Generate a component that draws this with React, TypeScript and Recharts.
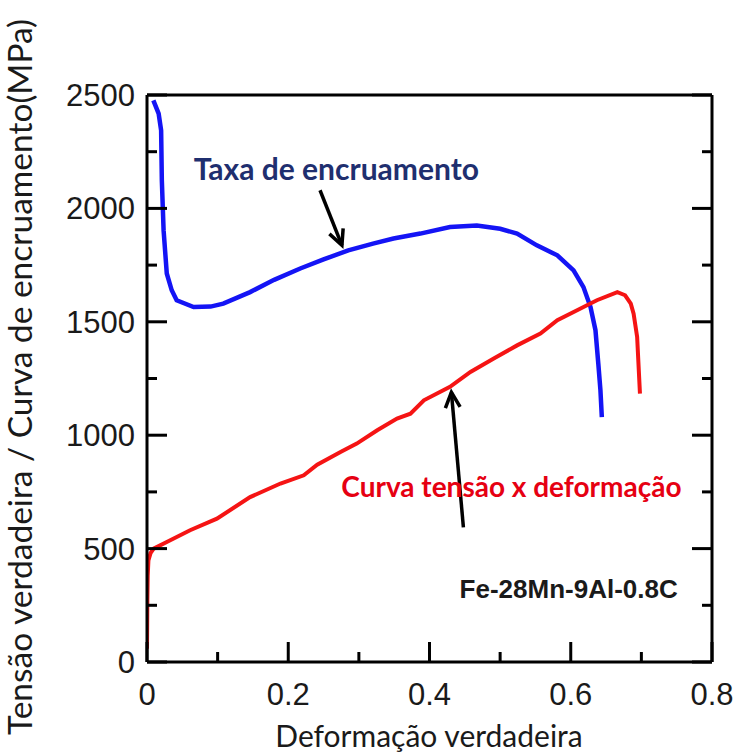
import React from 'react';
import { LineChart, Line, XAxis, YAxis, ReferenceLine, ReferenceDot, Label } from 'recharts';

// taxa de encruamento (work hardening rate)
const hardeningStrain = [0.009, 0.0165, 0.02, 0.021, 0.0235, 0.028, 0.035, 0.042, 0.066, 0.09, 0.108, 0.146, 0.18, 0.217, 0.25, 0.285, 0.32, 0.349, 0.387, 0.429, 0.467, 0.5, 0.524, 0.552, 0.581, 0.604, 0.618, 0.628, 0.635, 0.639, 0.642, 0.644];
const hardeningRate = [2476, 2418, 2344, 2124, 1903, 1713, 1639, 1595, 1565, 1567, 1580, 1631, 1685, 1735, 1775, 1815, 1845, 1867, 1889, 1918, 1925, 1910, 1889, 1837, 1793, 1727, 1653, 1565, 1463, 1316, 1200, 1080];

// curva tensão x deformação (true stress)
const stressStrain = [0, 0.0005, 0.001, 0.002, 0.005, 0.0094, 0.028, 0.061, 0.099, 0.146, 0.189, 0.222, 0.241, 0.274, 0.297, 0.326, 0.354, 0.373, 0.392, 0.429, 0.458, 0.491, 0.524, 0.557, 0.581, 0.609, 0.637, 0.666, 0.677, 0.685, 0.689, 0.694, 0.698];
const trueStress = [59, 272, 380, 448, 480, 500, 529, 581, 632, 727, 787, 823, 870, 926, 963, 1022, 1073, 1095, 1154, 1213, 1279, 1338, 1396, 1448, 1507, 1551, 1595, 1631, 1617, 1580, 1536, 1433, 1183];

const xTicks = [0, 0.1, 0.2, 0.3, 0.4, 0.5, 0.6, 0.7, 0.8];
const xLabels = ['0', '0.2', '0.4', '0.6', '0.8'];
const topTicks = [0, 0.08, 0.16, 0.24, 0.32, 0.4, 0.48, 0.56, 0.64, 0.72, 0.8];
const yTicks = [0, 250, 500, 750, 1000, 1250, 1500, 1750, 2000, 2250, 2500];
const yLabels = ['0', '500', '1000', '1500', '2000', '2500'];

const hardeningData = hardeningStrain.map((x, i) => ({ x, y: hardeningRate[i] }));
const stressData = stressStrain.map((x, i) => ({ x, y: trueStress[i] }));

const TICK_FONT = '"Liberation Sans", Arial, sans-serif';
const TEXT_FONT = 'Lato, "Open Sans", sans-serif';
const MAJOR = 20;
const MINOR = 10;

function BottomTick(props: any) {
  const { x, y, payload } = props;
  const label = xLabels.find((l) => Number(l) === payload.value);
  const len = label !== undefined ? MAJOR : MINOR;
  return (
    <g>
      <line x1={x} x2={x} y1={y} y2={y - len} stroke="#000" strokeWidth={3} />
      {label !== undefined && (
        <text x={x} y={y + 43} textAnchor="middle" fontSize={31} fontFamily={TICK_FONT} fill="#1a1a1a">
          {label}
        </text>
      )}
    </g>
  );
}

function LeftTick(props: any) {
  const { x, y, payload } = props;
  const label = yLabels.find((l) => Number(l) === payload.value);
  const len = label !== undefined ? MAJOR : MINOR;
  return (
    <g>
      <line x1={x} x2={x + len} y1={y} y2={y} stroke="#000" strokeWidth={3} />
      {label !== undefined && (
        <text x={x - 12} y={y + 11} textAnchor="end" fontSize={31} fontFamily={TICK_FONT} fill="#1a1a1a">
          {label}
        </text>
      )}
    </g>
  );
}

function TopTick(props: any) {
  const { x, y, payload } = props;
  const major = Math.round(payload.value / 0.08) % 2 === 0;
  return <line x1={x} x2={x} y1={y} y2={y + (major ? MAJOR : MINOR)} stroke="#000" strokeWidth={3} />;
}

function RightTick(props: any) {
  const { x, y, payload } = props;
  const major = yLabels.some((l) => Number(l) === payload.value);
  return <line x1={x} x2={x - (major ? MAJOR : MINOR)} y1={y} y2={y} stroke="#000" strokeWidth={3} />;
}

function Arrow(props: any) {
  const { x1, y1, x2, y2 } = props;
  const a = Math.atan2(y2 - y1, x2 - x1);
  const h = 17;
  const w = 0.45;
  const pts = [
    [x2 - h * Math.cos(a - w), y2 - h * Math.sin(a - w)],
    [x2, y2],
    [x2 - h * Math.cos(a + w), y2 - h * Math.sin(a + w)],
  ];
  return (
    <g>
      <line x1={x1} y1={y1} x2={x2} y2={y2} stroke="#000" strokeWidth={3.5} />
      <polyline points={pts.map((p) => p.join(',')).join(' ')} fill="none" stroke="#000" strokeWidth={3.5} strokeLinejoin="miter" />
    </g>
  );
}

const note = (text: string, color: string, size: number, font: string) => (p: any) => (
  <text x={p.cx} y={p.cy} textAnchor="middle" dominantBaseline="central" fontSize={size} fontWeight="bold" fontFamily={font} fill={color}>
    {text}
  </text>
);

export default function App() {
  return (
    <div style={{ position: 'absolute', left: 0, top: 0, width: 737, height: 756, background: '#fff' }}>
      <LineChart width={737} height={756} margin={{ top: 94, right: 24, bottom: 0, left: 0 }}>
        <XAxis
          dataKey="x"
          type="number"
          domain={[0, 0.8]}
          ticks={xTicks}
          allowDataOverflow
          height={94}
          tickSize={0}
          tickMargin={0}
          tickLine={false}
          axisLine={{ stroke: '#000', strokeWidth: 3 }}
          tick={BottomTick}
          interval={0}
        >
          <Label
            content={() => (
              <text x={429} y={747} textAnchor="middle" fontSize={30} fontFamily={TEXT_FONT} fill="#1a1a1a">
                Deformação verdadeira
              </text>
            )}
          />
        </XAxis>
        <XAxis
          xAxisId="top"
          orientation="top"
          type="number"
          domain={[0, 0.8]}
          ticks={topTicks}
          allowDataOverflow
          height={1}
          tickSize={0}
          tickMargin={0}
          tickLine={false}
          axisLine={{ stroke: '#000', strokeWidth: 3 }}
          tick={TopTick}
          interval={0}
        />
        <YAxis
          type="number"
          domain={[0, 2500]}
          ticks={yTicks}
          allowDataOverflow
          width={147}
          tickSize={0}
          tickMargin={0}
          tickLine={false}
          axisLine={{ stroke: '#000', strokeWidth: 3 }}
          tick={LeftTick}
          interval={0}
        >
          <Label
            content={() => (
              <text x={32} y={377} transform="rotate(-90 32 377)" textAnchor="middle" fontSize={33.5} fontFamily={TEXT_FONT} fill="#1a1a1a">
                Tensão verdadeira / Curva de encruamento(MPa)
              </text>
            )}
          />
        </YAxis>
        <YAxis
          yAxisId="right"
          orientation="right"
          type="number"
          domain={[0, 2500]}
          ticks={yTicks}
          allowDataOverflow
          width={1}
          tickSize={0}
          tickMargin={0}
          tickLine={false}
          axisLine={{ stroke: '#000', strokeWidth: 3 }}
          tick={RightTick}
          interval={0}
        />
        <Line data={hardeningData} dataKey="y" type="linear" stroke="#1414f5" strokeWidth={4.5} dot={false} isAnimationActive={false} />
        <Line data={stressData} dataKey="y" type="linear" stroke="#f51414" strokeWidth={4} dot={false} isAnimationActive={false} />
        <ReferenceLine segment={[{ x: 0.245, y: 2080 }, { x: 0.276, y: 1837 }]} ifOverflow="visible" shape={Arrow} />
        <ReferenceLine segment={[{ x: 0.448, y: 594 }, { x: 0.431, y: 1189 }]} ifOverflow="visible" shape={Arrow} />
        <ReferenceDot x={0.268} y={2177} r={0} ifOverflow="visible" shape={note('Taxa de encruamento', '#1f2f6f', 30, TEXT_FONT)} />
        <ReferenceDot x={0.516} y={778} r={0} ifOverflow="visible" shape={note('Curva tensão x deformação', '#e60012', 28, TEXT_FONT)} />
        <ReferenceDot x={0.597} y={320} r={0} ifOverflow="visible" shape={note('Fe-28Mn-9Al-0.8C', '#1a1a1a', 26, TICK_FONT)} />
      </LineChart>
    </div>
  );
}
